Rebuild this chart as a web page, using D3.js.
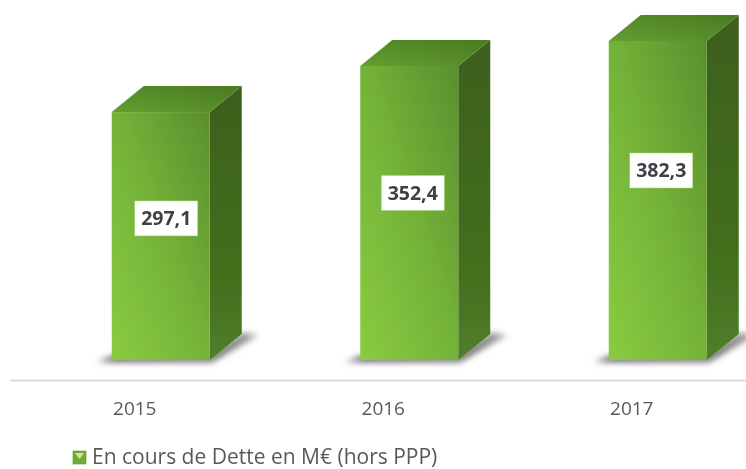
<!DOCTYPE html>
<html><head><meta charset="utf-8">
<script src="https://cdnjs.cloudflare.com/ajax/libs/d3/7.8.5/d3.min.js"></script>
<style>html,body{margin:0;padding:0;background:#fff;overflow:hidden}svg{display:block}</style>
</head><body><svg id="c" width="746" height="469"></svg>
<script>
const years = ["2015","2016","2017"];
const values = [297.1,352.4,382.3];
const labels = ["297,1","352,4","382,3"];
const legendLabel = "En cours de Dette en M€ (hors PPP)";

const svg = d3.select("#c");
const font = "'Open Sans','Noto Sans',sans-serif";
const x = d3.scaleBand().domain(years).range([10.5,756]);
const y = d3.scaleLinear().domain([0,400]).range([360,26.2]);
const barW = 98, dx = 32, dy = 26, offset = 26;
const bx = d => x(d)+x.bandwidth()/2+offset-barW/2;
// where each label box sits along its bar, as a share of the bar height
const labelShare = [.571,.568,.594];
const labelShiftX = [5.5,3.5,3.5];

const defs = svg.append("defs");
const front = defs.append("linearGradient").attr("id","front").attr("x1",0).attr("y1",1).attr("x2",1).attr("y2",0);
[[0,"#8acb41"],[.5,"#74b338"],[1,"#5a8f2d"]].forEach(s=>front.append("stop").attr("offset",s[0]).attr("stop-color",s[1]));
const topG = defs.append("linearGradient").attr("id","top").attr("x1",0).attr("y1",1).attr("x2",1).attr("y2",0);
[[0,"#639e30"],[1,"#4a7a22"]].forEach(s=>topG.append("stop").attr("offset",s[0]).attr("stop-color",s[1]));
const side = defs.append("linearGradient").attr("id","side").attr("x1",0).attr("y1",0).attr("x2",0).attr("y2",1);
[[0,"#3c5f1c"],[.75,"#44701f"],[1,"#517f2a"]].forEach(s=>side.append("stop").attr("offset",s[0]).attr("stop-color",s[1]));
const shadowG = defs.append("linearGradient").attr("id","shadowG").attr("x1",0).attr("y1",0).attr("x2",1).attr("y2",0);
[[0,"#8a8a8a"],[.12,"#555"],[.75,"#666"],[1,"#aaa"]].forEach(s=>shadowG.append("stop").attr("offset",s[0]).attr("stop-color",s[1]));
defs.append("filter").attr("id","blur").attr("x","-30%").attr("y","-100%").attr("width","160%").attr("height","300%")
  .append("feGaussianBlur").attr("stdDeviation",3);
defs.append("filter").attr("id","soft").attr("x","-10%").attr("y","-10%").attr("width","120%").attr("height","120%")
  .append("feGaussianBlur").attr("stdDeviation",0.7);
defs.append("filter").attr("id","txt").attr("x","-10%").attr("y","-20%").attr("width","120%").attr("height","140%")
  .append("feGaussianBlur").attr("stdDeviation",0.35);

svg.append("line").attr("x1",10).attr("x2",746).attr("y1",380.5).attr("y2",380.5)
  .attr("stroke","#d9d9d9").attr("stroke-width",2);

svg.append("g").selectAll("path").data(years).join("path")
  .attr("d",d=>{const l=bx(d);return `M${l-15},362 L${l+barW+2},362 L${l+barW+dx+17},${361-dy} L${l+barW+dx},${361-dy-2} L${l+barW},356 L${l},356 Z`;})
  .attr("fill","url(#shadowG)").attr("filter","url(#blur)");

const g = svg.append("g").attr("filter","url(#soft)");
const bars = g.selectAll("g").data(years).join("g");
bars.append("path").attr("fill","url(#side)").attr("d",(d,i)=>{
  const l=bx(d)+barW,t=y(values[i]),b=y(0);
  return `M${l},${t} L${l+dx},${t-dy} L${l+dx},${b-dy} L${l},${b} Z`;});
bars.append("path").attr("fill","url(#top)").attr("d",(d,i)=>{
  const l=bx(d),t=y(values[i]);
  return `M${l},${t} L${l+dx},${t-dy} L${l+barW+dx},${t-dy} L${l+barW},${t} Z`;});
bars.append("rect").attr("fill","url(#front)")
  .attr("x",d=>bx(d)).attr("width",barW)
  .attr("y",(d,i)=>y(values[i])).attr("height",(d,i)=>y(0)-y(values[i]));

const lab = svg.append("g").selectAll("g").data(years).join("g")
  .attr("transform",(d,i)=>`translate(${bx(d)+barW/2+labelShiftX[i]},${y(values[i]*labelShare[i])})`);
lab.append("rect").attr("x",-31.5).attr("y",-17.5).attr("width",63).attr("height",35).attr("fill","#fff").attr("stroke","#a9d37a").attr("stroke-width",.5);
lab.append("text").attr("text-anchor","middle").attr("y",7).attr("font-family",font)
  .attr("font-size",19.5).attr("font-weight",700).attr("fill","#3f3f46").attr("filter","url(#txt)").text((d,i)=>labels[i]);

const axis = svg.append("g").attr("transform","translate(0,380)")
  .call(d3.axisBottom(x).tickSize(0).tickPadding(22));
axis.select(".domain").remove();
axis.selectAll("text").attr("font-family",font).attr("font-size",19).attr("fill","#595959").attr("filter","url(#txt)");

const leg = svg.append("g").attr("transform","translate(73,451)");
leg.append("rect").attr("width",13).attr("height",13).attr("fill","#6fae35").attr("stroke","#5b8f2b").attr("stroke-width",.6);
leg.append("path").attr("d","M2,2 L11,2 L6.5,8 Z").attr("fill","#cfe88f");
leg.append("text").attr("x",19).attr("y",13).attr("font-family",font).attr("font-size",21).attr("fill","#595959").attr("filter","url(#txt)").text(legendLabel);
</script></body></html>
